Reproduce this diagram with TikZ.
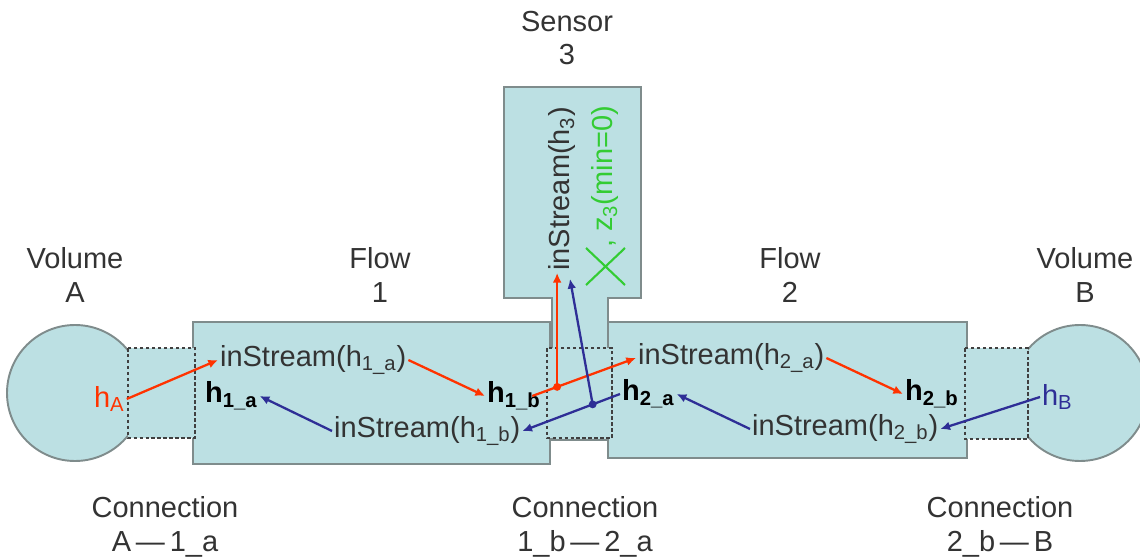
\documentclass[tikz,border=0pt]{standalone}
\usepackage{fontspec}
\setmainfont{Liberation Sans}
\usetikzlibrary{arrows.meta,calc}
\definecolor{fillc}{HTML}{BCE0E3}
\definecolor{edgec}{HTML}{7F8C8C}
\definecolor{redc}{HTML}{FF3300}
\definecolor{bluec}{HTML}{2E2E96}
\definecolor{greenc}{HTML}{33CC33}
\definecolor{txt}{HTML}{333333}
\begin{document}
\begin{tikzpicture}[x=0.02cm,y=-0.02cm,
 shapebox/.style={fill=fillc,draw=edgec,line width=1.1pt},
 connbox/.style={fill=fillc,draw=black!75,line width=1.2pt,dash pattern=on 2pt off 1.4pt},
 lbl/.style={align=center,text=txt,font=\fontsize{16.5}{19.3}\selectfont,inner sep=0pt},
 itxt/.style={text=txt,font=\fontsize{16.5}{19.3}\selectfont,inner sep=1pt,anchor=west},
 hb/.style={text=black,font=\fontsize{16.5}{19.3}\selectfont\bfseries,inner sep=1pt,anchor=west},
 redarr/.style={draw=redc,line width=1.3pt,-{Latex[length=5.5pt,width=5pt]}},
 bluearr/.style={draw=bluec,line width=1.3pt,-{Latex[length=5.5pt,width=5pt]}},
 jdot/.style={circle,inner sep=0pt,minimum size=4.5pt},
]
\useasboundingbox (0,0) rectangle (1140,560);
\begin{scope}
\clip (0,0) rectangle (1140,560);
% volumes
\draw[shapebox] (75,393) circle[radius=68];
\draw[shapebox] (1080,393) circle[radius=68];
\end{scope}
% flows
\draw[shapebox] (193,322) rectangle (550,464);
\draw[shapebox] (608,322) rectangle (967,458);
% sensor
\draw[shapebox] (504,87) -- (641,87) -- (641,298) -- (608,298) -- (608,440)
  -- (552,440) -- (552,298) -- (504,298) -- cycle;
% connections
\draw[connbox] (128,348) rectangle (195,438);
\draw[connbox] (547,348) rectangle (612,438);
\draw[connbox] (965,348) rectangle (1028,439);

% labels
\node[lbl] (lvolA) at (75,275) {Volume\\A};
\node[lbl] (lflow1) at (380,275) {Flow\\1};
\node[lbl] (lsens) at (567,38) {Sensor\\3};
\node[lbl] (lflow2) at (790,275) {Flow\\2};
\node[lbl] (lvolB) at (1085,275) {Volume\\B};
\node[lbl] (lcA) at (165,527) {Connection\\A\,—\,1\_a};
\node[lbl] (lc12) at (585,527) {Connection\\1\_b\,—\,2\_a};
\node[lbl] (lcB) at (1000,527) {Connection\\2\_b\,—\,B};

% inner texts
\node[itxt,text=redc] (hA) at (92,399) {h\textsubscript{A}};
\node[itxt] (inS1a) at (218,360) {inStream(h\textsubscript{1\_a})};
\node[hb] (h1a) at (203,396) {h\textsubscript{1\_a}};
\node[hb] (h1b) at (485,396) {h\textsubscript{1\_b}};
\node[itxt] (inS1b) at (332,431) {inStream(h\textsubscript{1\_b})};
\node[itxt] (inS2a) at (636,358) {inStream(h\textsubscript{2\_a})};
\node[hb] (h2a) at (620,394) {h\textsubscript{2\_a}};
\node[hb] (h2b) at (903,394) {h\textsubscript{2\_b}};
\node[itxt] (inS2b) at (750,429) {inStream(h\textsubscript{2\_b})};
\node[itxt,text=bluec] (hB) at (1040,397) {h\textsubscript{B}};
\node[itxt,anchor=center,rotate=90] (inS3) at (562,189) {inStream(h\textsubscript{3})};
\node[itxt,anchor=center,rotate=90,text=greenc] (z3) at (605,177) {, z\textsubscript{3}(min=0)};
\draw[greenc,line width=1.2pt] (586,248) -- (625,285) (586,285) -- (625,248);

% red arrows
\draw[redarr] (hA.east) -- (inS1a.west);
\draw[redarr] (inS1a.east) -- (h1b.west);
\draw[redarr] ([xshift=-6]h1b.east) -- (inS2a.west);
\coordinate (jr) at ($([xshift=-6]h1b.east)!0.24!(inS2a.west)$);
\node[jdot,fill=redc] (jrd) at (jr) {};
\draw[redarr] (jrd.center) -- (jrd.center |- inS3.west);
\draw[redarr] (inS2a.east) -- (h2b.west);
% blue arrows
\draw[bluearr] (hB.west) -- (inS2b.east);
\draw[bluearr] (inS2b.west) -- (h2a.east);
\draw[bluearr] (h2a.west) -- (inS1b.east);
\coordinate (jb) at ($(h2a.west)!0.28!(inS1b.east)$);
\node[jdot,fill=bluec] (jbd) at (jb) {};
\draw[bluearr] (jbd.center) -- ($(inS3.west)+(8,6)$);
\draw[bluearr] (inS1b.west) -- (h1a.east);
\end{tikzpicture}
\end{document}
